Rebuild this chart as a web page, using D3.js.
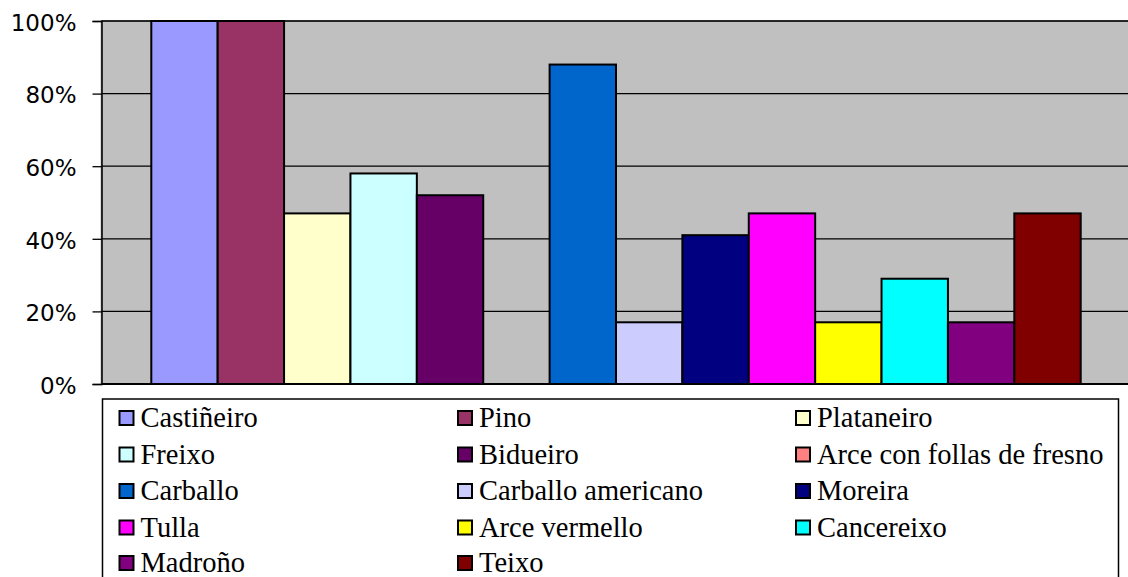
<!DOCTYPE html>
<html><head><meta charset="utf-8">
<script src="https://cdn.jsdelivr.net/npm/d3@7"></script>
<style>html,body{margin:0;padding:0;background:#fff;overflow:hidden}</style>
</head><body>
<svg id="c" width="1128" height="577"></svg>
<script>
const series = ["Castiñeiro","Pino","Plataneiro","Freixo","Bidueiro","Arce con follas de fresno","Carballo","Carballo americano","Moreira","Tulla","Arce vermello","Cancereixo","Madroño","Teixo"];
const values = [1.00,1.00,0.47,0.58,0.52,0.00,0.88,0.17,0.41,0.47,0.17,0.29,0.17,0.47];
const colors = ["#9999FF","#993366","#FFFFCC","#CCFFFF","#660066","#FF8080","#0066CC","#CCCCFF","#000080","#FF00FF","#FFFF00","#00FFFF","#800080","#800000"];
const yTicks = [0,0.2,0.4,0.6,0.8,1.0];

const svg = d3.select("#c");
const L = 101.5, R = 1130.5, T = 21, B = 384;
const x = d3.scaleBand().domain(series).range([L,R]).paddingInner(0).paddingOuter(0.75);
const y = d3.scaleLinear().domain([0,1]).range([B,T]);

// plot background
svg.append("rect").attr("x",L).attr("y",T).attr("width",R-L).attr("height",B-T)
  .attr("fill","#C0C0C0").attr("stroke","#808080").attr("stroke-width",1.5);

// gridlines
svg.append("g").selectAll("line").data(yTicks.filter(d=>d>0)).join("line")
  .attr("x1",L).attr("x2",R).attr("y1",d=>y(d)).attr("y2",d=>y(d))
  .attr("stroke","#000").attr("stroke-width",1.3);

// bars
svg.append("g").selectAll("rect").data(series).join("rect")
  .attr("x",d=>x(d)).attr("width",x.bandwidth())
  .attr("y",(d,i)=>y(values[i])).attr("height",(d,i)=>B-y(values[i]))
  .attr("fill",(d,i)=>colors[i]).attr("stroke","#000").attr("stroke-width",2)
  .attr("display",(d,i)=>values[i]>0?null:"none");

// y axis
const yAxis = d3.axisLeft(y).tickValues(yTicks).tickFormat(d3.format(".0%")).tickSize(9).tickPadding(16);
const ag = svg.append("g").attr("transform",`translate(${L},0)`).call(yAxis)
  .attr("font-family","DejaVu Sans").attr("font-size",23);
ag.select(".domain").attr("stroke","#000").attr("stroke-width",1.5);
ag.selectAll(".tick line").attr("stroke","#000").attr("stroke-width",1.3);
ag.selectAll(".tick text").attr("fill","#000").attr("dy","0.4em");

// x baseline
svg.append("line").attr("x1",L).attr("x2",R).attr("y1",B).attr("y2",B)
  .attr("stroke","#000").attr("stroke-width",2);

// legend
const lg = svg.append("g").attr("font-family","Liberation Serif").attr("font-size",28.5);
lg.append("rect").attr("x",102.5).attr("y",399).attr("width",1016).attr("height",200)
  .attr("fill","#fff").attr("stroke","#000").attr("stroke-width",1.5);
const colX = [118.5, 457, 795];
const rowY = [427, 463.5, 500, 536.5, 572];
const items = lg.selectAll("g.item").data(series).join("g").attr("class","item")
  .attr("transform",(d,i)=>`translate(${colX[i%3]},${rowY[Math.floor(i/3)]})`);
items.append("rect").attr("x",1).attr("y",-16).attr("width",14).attr("height",14)
  .attr("fill",(d,i)=>colors[i]).attr("stroke","#000").attr("stroke-width",2);
items.append("text").attr("x",22).attr("y",0).attr("fill","#000").text(d=>d);
</script>
</body></html>
